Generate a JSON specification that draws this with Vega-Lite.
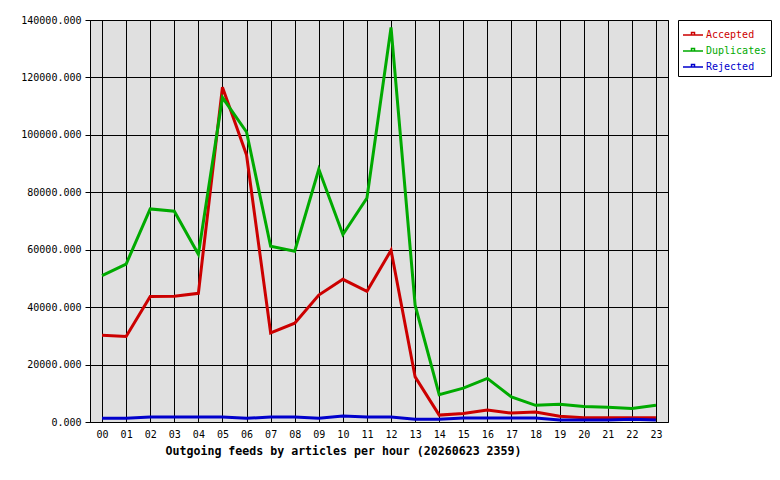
{
  "$schema": "https://vega.github.io/schema/vega-lite/v6.json",
  "autosize": {"type": "none"},
  "padding": {"left": 90, "top": 20, "right": 112, "bottom": 58},
  "width": 578,
  "height": 402,
  "background": "white",
  "config": {
    "view": {"fill": "#e0e0e0", "stroke": "black", "strokeWidth": 1},
    "font": "DejaVu Sans Mono"
  },
  "data": {"values": [
    {"hour": "00", "series": "Accepted", "value": 30200},
    {"hour": "01", "series": "Accepted", "value": 29800},
    {"hour": "02", "series": "Accepted", "value": 43700},
    {"hour": "03", "series": "Accepted", "value": 43800},
    {"hour": "04", "series": "Accepted", "value": 44800},
    {"hour": "05", "series": "Accepted", "value": 116600},
    {"hour": "06", "series": "Accepted", "value": 93000},
    {"hour": "07", "series": "Accepted", "value": 31000},
    {"hour": "08", "series": "Accepted", "value": 34400},
    {"hour": "09", "series": "Accepted", "value": 44200},
    {"hour": "10", "series": "Accepted", "value": 49700},
    {"hour": "11", "series": "Accepted", "value": 45500},
    {"hour": "12", "series": "Accepted", "value": 59800},
    {"hour": "13", "series": "Accepted", "value": 15700},
    {"hour": "14", "series": "Accepted", "value": 2400},
    {"hour": "15", "series": "Accepted", "value": 3000},
    {"hour": "16", "series": "Accepted", "value": 4200},
    {"hour": "17", "series": "Accepted", "value": 3100},
    {"hour": "18", "series": "Accepted", "value": 3500},
    {"hour": "19", "series": "Accepted", "value": 2000},
    {"hour": "20", "series": "Accepted", "value": 1500},
    {"hour": "21", "series": "Accepted", "value": 1500},
    {"hour": "22", "series": "Accepted", "value": 1500},
    {"hour": "23", "series": "Accepted", "value": 1500},
    {"hour": "00", "series": "Duplicates", "value": 51000},
    {"hour": "01", "series": "Duplicates", "value": 55000},
    {"hour": "02", "series": "Duplicates", "value": 74200},
    {"hour": "03", "series": "Duplicates", "value": 73400},
    {"hour": "04", "series": "Duplicates", "value": 58400},
    {"hour": "05", "series": "Duplicates", "value": 113000},
    {"hour": "06", "series": "Duplicates", "value": 101000},
    {"hour": "07", "series": "Duplicates", "value": 61200},
    {"hour": "08", "series": "Duplicates", "value": 59500},
    {"hour": "09", "series": "Duplicates", "value": 88000},
    {"hour": "10", "series": "Duplicates", "value": 65300},
    {"hour": "11", "series": "Duplicates", "value": 78000},
    {"hour": "12", "series": "Duplicates", "value": 137400},
    {"hour": "13", "series": "Duplicates", "value": 40700},
    {"hour": "14", "series": "Duplicates", "value": 9500},
    {"hour": "15", "series": "Duplicates", "value": 11800},
    {"hour": "16", "series": "Duplicates", "value": 15200},
    {"hour": "17", "series": "Duplicates", "value": 8700},
    {"hour": "18", "series": "Duplicates", "value": 5800},
    {"hour": "19", "series": "Duplicates", "value": 6200},
    {"hour": "20", "series": "Duplicates", "value": 5400},
    {"hour": "21", "series": "Duplicates", "value": 5100},
    {"hour": "22", "series": "Duplicates", "value": 4700},
    {"hour": "23", "series": "Duplicates", "value": 5800},
    {"hour": "00", "series": "Rejected", "value": 1300},
    {"hour": "01", "series": "Rejected", "value": 1300},
    {"hour": "02", "series": "Rejected", "value": 1700},
    {"hour": "03", "series": "Rejected", "value": 1700},
    {"hour": "04", "series": "Rejected", "value": 1700},
    {"hour": "05", "series": "Rejected", "value": 1700},
    {"hour": "06", "series": "Rejected", "value": 1300},
    {"hour": "07", "series": "Rejected", "value": 1700},
    {"hour": "08", "series": "Rejected", "value": 1700},
    {"hour": "09", "series": "Rejected", "value": 1300},
    {"hour": "10", "series": "Rejected", "value": 2100},
    {"hour": "11", "series": "Rejected", "value": 1700},
    {"hour": "12", "series": "Rejected", "value": 1700},
    {"hour": "13", "series": "Rejected", "value": 1000},
    {"hour": "14", "series": "Rejected", "value": 1000},
    {"hour": "15", "series": "Rejected", "value": 1400},
    {"hour": "16", "series": "Rejected", "value": 1400},
    {"hour": "17", "series": "Rejected", "value": 1400},
    {"hour": "18", "series": "Rejected", "value": 1400},
    {"hour": "19", "series": "Rejected", "value": 700},
    {"hour": "20", "series": "Rejected", "value": 700},
    {"hour": "21", "series": "Rejected", "value": 700},
    {"hour": "22", "series": "Rejected", "value": 1000},
    {"hour": "23", "series": "Rejected", "value": 700}
  ]},
  "mark": {"type": "line", "strokeWidth": 3, "interpolate": "linear"},
  "encoding": {
    "x": {
      "field": "hour", "type": "ordinal",
      "scale": {"type": "point", "padding": 0.5},
      "axis": {
        "labelAngle": 0, "grid": true, "gridColor": "black", "gridOpacity": 1, "gridWidth": 1,
        "ticks": false, "domain": false, "labelPadding": 7,
        "labelFont": "DejaVu Sans Mono", "labelFontSize": 10, "labelColor": "black",
        "title": "Outgoing feeds by articles per hour (20260623 2359)",
        "titleFont": "DejaVu Sans Mono", "titleFontSize": 11.6, "titleFontWeight": "bold", "titleColor": "black",
        "titleX": 253, "titleY": 29, "titleAlign": "center", "titleBaseline": "middle"
      }
    },
    "y": {
      "field": "value", "type": "quantitative",
      "scale": {"domain": [0, 140000], "nice": false, "zero": true},
      "axis": {
        "values": [0, 20000, 40000, 60000, 80000, 100000, 120000, 140000],
        "format": ".3f",
        "grid": true, "gridColor": "black", "gridOpacity": 1, "gridWidth": 1,
        "ticks": true, "tickSize": 5, "tickColor": "black", "domain": true, "domainColor": "black",
        "labelPadding": 4, "labelFont": "DejaVu Sans Mono", "labelFontSize": 10, "labelColor": "black",
        "title": null
      }
    },
    "color": {
      "field": "series", "type": "nominal",
      "scale": {"domain": ["Accepted", "Duplicates", "Rejected"], "range": ["#cc0000", "#00aa00", "#0000cc"]},
      "legend": {
        "title": null,
        "orient": "none", "legendX": 588, "legendY": 0,
        "strokeColor": "black", "fillColor": "white", "cornerRadius": 0,
        "padding": 4,
        "symbolType": "M-1,0H1M-0.15,-0.25H0.15V0H-0.15Z",
        "symbolSize": 400, "symbolStrokeWidth": 1.5,
        "labelFont": "DejaVu Sans Mono", "labelFontSize": 10,
        "labelOffset": 2, "rowPadding": -3,
        "labelColor": {"expr": "datum.value == 'Accepted' ? '#cc0000' : datum.value == 'Duplicates' ? '#00aa00' : '#0000cc'"}
      }
    }
  }
}
